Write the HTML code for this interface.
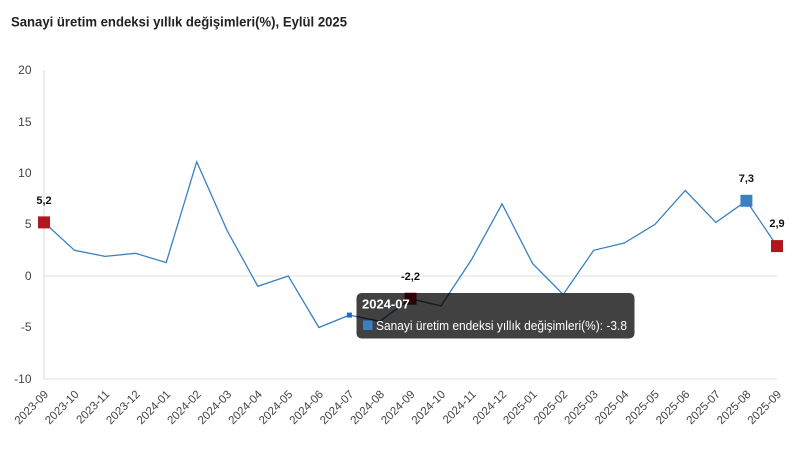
<!DOCTYPE html>
<html><head><meta charset="utf-8"><style>
html,body{margin:0;padding:0;background:#fff;}
svg{display:block;}
text{font-family:"Liberation Sans",sans-serif;}
</style></head><body>
<svg width="807" height="454" viewBox="0 0 807 454" xmlns="http://www.w3.org/2000/svg">
<defs>
<clipPath id="tt"><rect x="356.5" y="293" width="278" height="45.5" rx="5"/></clipPath>
</defs>
<rect width="807" height="454" fill="#fff"/>
<text x="11" y="26.5" font-size="14" font-weight="bold" fill="#222" textLength="336" lengthAdjust="spacingAndGlyphs">Sanayi üretim endeksi yıllık değişimleri(%), Eylül 2025</text>

<!-- grid/axes -->
<line x1="44" y1="70" x2="44" y2="379.5" stroke="#e6e6e6" stroke-width="1.5"/>
<line x1="44" y1="276" x2="777" y2="276" stroke="#e0e0e0" stroke-width="1"/>
<line x1="44" y1="379" x2="777" y2="379" stroke="#e0e0e0" stroke-width="1"/>

<g font-size="12" fill="#444" text-anchor="end">
<text x="31.5" y="74">20</text>
<text x="31.5" y="126">15</text>
<text x="31.5" y="177">10</text>
<text x="31.5" y="228">5</text>
<text x="31.5" y="280">0</text>
<text x="31.5" y="331">-5</text>
<text x="31.5" y="383">-10</text>
</g>

<g font-size="11.5" fill="#444" text-anchor="end">
<text transform="translate(49,395) rotate(-45)">2023-09</text>
<text transform="translate(79.5,395) rotate(-45)">2023-10</text>
<text transform="translate(110.1,395) rotate(-45)">2023-11</text>
<text transform="translate(140.6,395) rotate(-45)">2023-12</text>
<text transform="translate(171.2,395) rotate(-45)">2024-01</text>
<text transform="translate(201.7,395) rotate(-45)">2024-02</text>
<text transform="translate(232.2,395) rotate(-45)">2024-03</text>
<text transform="translate(262.8,395) rotate(-45)">2024-04</text>
<text transform="translate(293.3,395) rotate(-45)">2024-05</text>
<text transform="translate(323.9,395) rotate(-45)">2024-06</text>
<text transform="translate(354.4,395) rotate(-45)">2024-07</text>
<text transform="translate(384.9,395) rotate(-45)">2024-08</text>
<text transform="translate(415.5,395) rotate(-45)">2024-09</text>
<text transform="translate(446,395) rotate(-45)">2024-10</text>
<text transform="translate(476.6,395) rotate(-45)">2024-11</text>
<text transform="translate(507.1,395) rotate(-45)">2024-12</text>
<text transform="translate(537.6,395) rotate(-45)">2025-01</text>
<text transform="translate(568.2,395) rotate(-45)">2025-02</text>
<text transform="translate(598.7,395) rotate(-45)">2025-03</text>
<text transform="translate(629.3,395) rotate(-45)">2025-04</text>
<text transform="translate(659.8,395) rotate(-45)">2025-05</text>
<text transform="translate(690.3,395) rotate(-45)">2025-06</text>
<text transform="translate(720.9,395) rotate(-45)">2025-07</text>
<text transform="translate(751.4,395) rotate(-45)">2025-08</text>
<text transform="translate(782,395) rotate(-45)">2025-09</text>
</g>

<polyline fill="none" stroke="#3a80c2" stroke-width="1.3" stroke-linejoin="miter" points="44,222.4 74.5,250.3 105.1,256.4 135.6,253.3 166.2,262.6 196.7,161.7 227.2,230.7 257.8,286.3 288.3,276 318.9,327.5 349.4,315.1 379.9,321.3 410.5,298.7 441,305.9 471.6,259.5 502.1,203.9 532.6,263.6 563.2,294.5 593.7,250.3 624.3,243 654.8,224.5 685.3,190.5 715.9,222.4 746.4,200.8 777,246.1"/>

<!-- markers -->
<rect x="38" y="216.4" width="12" height="12" fill="#b0161e"/>
<rect x="740.4" y="194.8" width="12" height="12" fill="#3a80c2"/>
<rect x="771" y="240.1" width="12" height="12" fill="#b0161e"/>
<rect x="404.5" y="292.7" width="12" height="12" fill="#b0161e"/>

<g font-size="11" font-weight="bold" fill="#111" text-anchor="middle">
<text x="44" y="204">5,2</text>
<text x="746.4" y="182">7,3</text>
<text x="777" y="227">2,9</text>
<text x="410.5" y="280">-2,2</text>
</g>

<!-- tooltip -->
<rect x="356.5" y="293" width="278" height="45.5" rx="5" fill="#333" fill-opacity="0.93"/>
<g clip-path="url(#tt)">
<polyline fill="none" stroke="#0f1a26" stroke-width="1.3" points="349.4,315.1 379.9,321.3 410.5,298.7 441,305.9 471.6,259.5"/>
<rect x="404.5" y="292.7" width="12" height="12" fill="#2a0406"/>
</g>
<rect x="346.9" y="312.6" width="5" height="5" fill="#1b6fc4"/>
<text x="362" y="308.5" font-size="13" font-weight="bold" fill="#fff">2024-07</text>
<rect x="363" y="320.5" width="9.5" height="9.5" fill="#3a80c2"/>
<text x="376" y="330" font-size="13" fill="#fff" textLength="251" lengthAdjust="spacingAndGlyphs">Sanayi üretim endeksi yıllık değişimleri(%): -3.8</text>
</svg>
</body></html>
